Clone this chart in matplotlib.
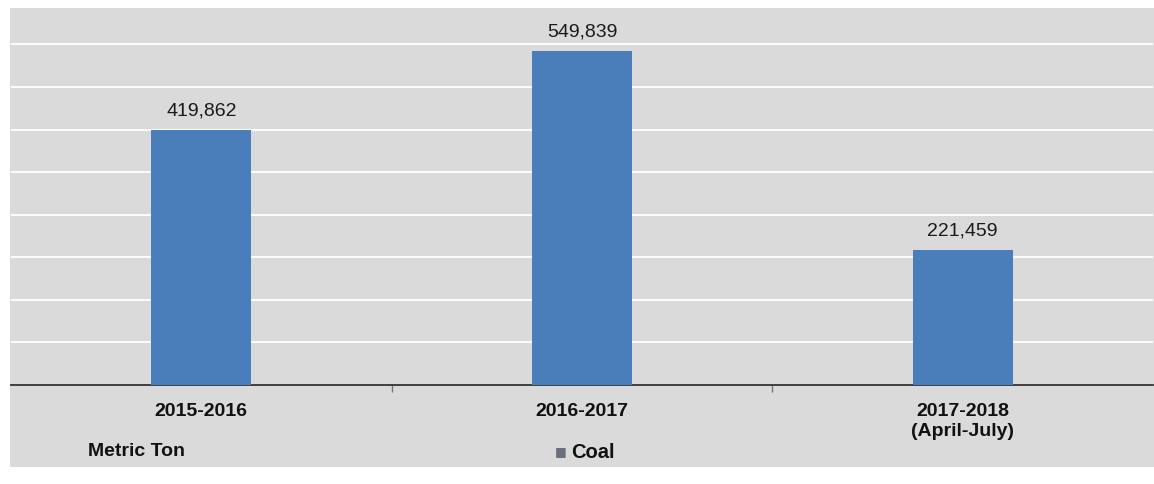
import matplotlib.pyplot as plt
from matplotlib.patches import Rectangle

categories = ["2015-2016", "2016-2017", "2017-2018\n(April-July)"]
coal = [419862, 549839, 221459]
value_labels = ["419,862", "549,839", "221,459"]
unit_label = "Metric Ton"
series_name = "Coal"

W, H = 1154, 484
fig = plt.figure(figsize=(W / 100, H / 100), dpi=100)
fig.patch.set_facecolor("white")

panel_color = "#dadada"
fig.add_artist(Rectangle((10 / W, 1 - 467 / H), (W - 10) / W, (467 - 8) / H,
                         transform=fig.transFigure, facecolor=panel_color,
                         edgecolor="none", zorder=0))

ax = fig.add_axes([11 / W, 1 - 385 / H, (1153 - 11) / W, (385 - 8) / H])
ax.set_facecolor(panel_color)
x = list(range(len(categories)))
bars = ax.bar(x, coal, width=0.263, color="#4a7ebb", zorder=3)
ax.set_xlim(-0.5, 2.5)
ax.set_ylim(0, 620000)
ax.set_yticks(range(70000, 600000, 70000))
ax.yaxis.grid(True, color="white", linewidth=1.3, zorder=1)
ax.tick_params(axis="y", length=0, labelleft=False)
for s in ["top", "right", "left"]:
    ax.spines[s].set_visible(False)
ax.spines["bottom"].set_color("#333333")
ax.spines["bottom"].set_linewidth(1.3)
ax.set_xticks([0.5, 1.5])
ax.set_xticklabels([])
ax.tick_params(axis="x", length=5, color="#777777", width=1)

for xi, v, lab in zip(x, coal, value_labels):
    ax.annotate(lab, (xi, v), xytext=(0, 13.7), textcoords="offset points",
                ha="center", va="center", fontsize=14, color="#1a1a1a",
                family="Liberation Sans")

for xi, cat in zip(x, categories):
    ax.annotate(cat, (xi, 0), xycoords=("data", "axes fraction"),
                xytext=(0, -13), textcoords="offset points",
                ha="center", va="top", fontsize=14, fontweight="bold",
                color="#111111", family="Liberation Sans", linespacing=1.2)

fig.text(88 / W, 1 - 452 / H, unit_label, fontsize=14, fontweight="bold",
         color="#111111", family="Liberation Sans", va="center", ha="left")
fig.text(555 / W, 1 - 452 / H, "\u25a0", fontsize=9, color="#6a6f7e",
         family="DejaVu Sans", va="center", ha="left")
fig.text(571 / W, 1 - 452 / H, series_name, fontsize=14.5, fontweight="bold",
         color="#111111", family="Liberation Sans", va="center", ha="left")

fig.savefig("out.png", dpi=100)
